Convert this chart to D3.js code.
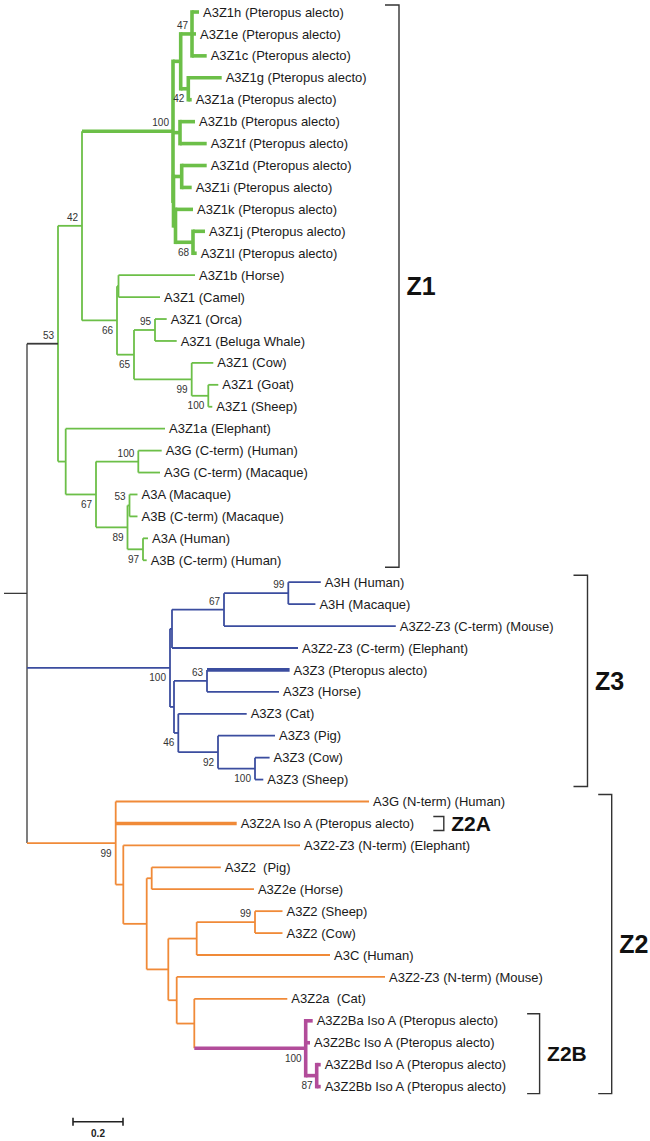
<!DOCTYPE html>
<html><head><meta charset="utf-8">
<script src="https://cdn.jsdelivr.net/npm/d3@7"></script>
<style>body{margin:0;background:#fff}</style>
</head><body>
<svg id="chart" width="650" height="1141"></svg>
<script>
// ---------------- DATA ----------------
const leafLabels = [
  "A3Z1h (Pteropus alecto)","A3Z1e (Pteropus alecto)","A3Z1c (Pteropus alecto)","A3Z1g (Pteropus alecto)",
  "A3Z1a (Pteropus alecto)","A3Z1b (Pteropus alecto)","A3Z1f (Pteropus alecto)","A3Z1d (Pteropus alecto)",
  "A3Z1i (Pteropus alecto)","A3Z1k (Pteropus alecto)","A3Z1j (Pteropus alecto)","A3Z1l (Pteropus alecto)",
  "A3Z1b (Horse)","A3Z1 (Camel)","A3Z1 (Orca)","A3Z1 (Beluga Whale)","A3Z1 (Cow)","A3Z1 (Goat)","A3Z1 (Sheep)",
  "A3Z1a (Elephant)","A3G (C-term) (Human)","A3G (C-term) (Macaque)","A3A (Macaque)","A3B (C-term) (Macaque)",
  "A3A (Human)","A3B (C-term) (Human)",
  "A3H (Human)","A3H (Macaque)","A3Z2-Z3 (C-term) (Mouse)","A3Z2-Z3 (C-term) (Elephant)","A3Z3 (Pteropus alecto)",
  "A3Z3 (Horse)","A3Z3 (Cat)","A3Z3 (Pig)","A3Z3 (Cow)","A3Z3 (Sheep)",
  "A3G (N-term) (Human)","A3Z2A Iso A (Pteropus alecto)","A3Z2-Z3 (N-term) (Elephant)","A3Z2  (Pig)","A3Z2e (Horse)",
  "A3Z2 (Sheep)","A3Z2 (Cow)","A3C (Human)","A3Z2-Z3 (N-term) (Mouse)","A3Z2a  (Cat)",
  "A3Z2Ba Iso A (Pteropus alecto)","A3Z2Bc Iso A (Pteropus alecto)","A3Z2Bd Iso A (Pteropus alecto)","A3Z2Bb Iso A (Pteropus alecto)"
];

// Tree topology, branch lengths (substitutions/site) and bootstrap values (internal node names); leaves are Ln = leafLabels[n]
const treeNewick = `(
 (
  (
   (
    ((L0:0.028,L1:0.016,L2:0.0588)47:0.0452,(L3:0.1336,L4:0.0136)42:0.0304):0.0308,
    (L5:0.06,L6:0.1068):0.028,
    ((L7:0.1,L8:0.04):0.0328,(L9:0.07,(L10:0.048,L11:0.0148)68:0.07):0.008):0.002
   )100:0.364,
   (
    (L12:0.306,L13:0.166):0.006,
    ((L14:0.0468,L15:0.0868)95:0.084,(L16:0.0864,(L17:0.04,L18:0.016)100:0.0664)99:0.2308)65:0.068
   )66:0.14
  )42:0.096,
  (
   L19:0.3972,
   ((L20:0.0936,L21:0.0868)100:0.1692,((L22:0.032,L23:0.032)53:0.008,(L24:0.02,L25:0.0148)97:0.062)89:0.126)67:0.1212
  ):0.0308
 )53:0.124,
 (
  (((L26:0.13,L27:0.1084)99:0.2572,L28:0.6872)67:0.208,L29:0.504):0.008,
  ((L30:0.3304,L31:0.288)63:0.132,(L32:0.2736,(L33:0.228,(L34:0.0584,L35:0.0332)100:0.148)92:0.1588)46:0.0172):0.016
 )100:0.572,
 (
  L36:1.0132,
  L37:0.484,
  (
   L38:0.7068,
   (
    (L39:0.2764,L40:0.409):0.02,
    (
     ((L41:0.11,L42:0.11)99:0.2332,L43:0.5332):0.1136,
     (L44:0.8332,(L45:0.372,(L46:0.028,L47:0.0172,(L48:0.016,L49:0.016)87:0.044)100:0.4456):0.0704):0.0336
    ):0.0864
   ):0.0936
  ):0.0304
 )99:0.3548
);`;

const groupNames = ["Z1", "Z3", "Z2", "Z2B"];
const groupFirstLeaf = [0, 26, 36, 46];
const groupLastLeaf = [25, 35, 49, 49];

const bracketLabels = ["Z1", "Z3", "Z2", "Z2A", "Z2B"];
const bracketFirstLeaf = [0, 26, 36, 37, 46];
const bracketLastLeaf = [25, 35, 49, 37, 49];

const highlightSpecies = "Pteropus alecto";
const scaleBarValue = 0.2;

// ---------------- STYLE / LAYOUT ----------------
const groupColor = { Z1: "#6cbf48", Z3: "#3b4d9f", Z2: "#f08a38", Z2B: "#b24c9a", none: "#3a3a3a" };
const bracketX = { Z1: 399, Z3: 587.5, Z2: 611.7, Z2A: 443.8, Z2B: 539.6 };
const bracketTick = { Z1: 14, Z3: 14, Z2: 13.5, Z2A: 10.5, Z2B: 12.5 };
const bracketFont = { Z1: 25, Z3: 25, Z2: 25, Z2A: 21, Z2B: 21 };
const thin = 1.8, thick = 3.6;

// ---------------- PARSE ----------------
function parseNewick(str) {
  const s = str.replace(/\s+/g, "");
  let i = 0;
  function node() {
    const n = {};
    if (s[i] === "(") {
      i++; n.children = [];
      for (;;) {
        n.children.push(node());
        if (s[i] === ",") { i++; continue; }
        if (s[i] === ")") { i++; break; }
        throw new Error("bad newick at " + i);
      }
    }
    let name = "";
    while (i < s.length && !",():;".includes(s[i])) name += s[i++];
    n.name = name;
    n.length = 0;
    if (s[i] === ":") {
      i++; let num = "";
      while (i < s.length && !",();".includes(s[i])) num += s[i++];
      n.length = +num;
    }
    return n;
  }
  return node();
}

const root = d3.hierarchy(parseNewick(treeNewick));
root.eachBefore(d => { d.dist = d.parent ? d.parent.dist + d.data.length : 0; });

const x = d3.scaleLinear().domain([0, 1]).range([27, 277]);
const y = d3.scaleLinear().domain([0, leafLabels.length - 1]).range([12, 1086.6]);

root.eachAfter(d => {
  if (d.children) {
    d.yPos = (d.children[0].yPos + d.children[d.children.length - 1].yPos) / 2;
    d.minLeaf = d3.min(d.children, c => c.minLeaf);
    d.maxLeaf = d3.max(d.children, c => c.maxLeaf);
    d.allHighlight = d.children.every(c => c.allHighlight);
  } else {
    d.leafIndex = +d.data.name.slice(1);
    d.yPos = y(d.leafIndex);
    d.minLeaf = d.maxLeaf = d.leafIndex;
    d.allHighlight = leafLabels[d.leafIndex].includes(highlightSpecies);
  }
  let best = "none", bestSize = Infinity;
  groupNames.forEach((g, k) => {
    if (d.minLeaf >= groupFirstLeaf[k] && d.maxLeaf <= groupLastLeaf[k]) {
      const size = groupLastLeaf[k] - groupFirstLeaf[k];
      if (size < bestSize) { bestSize = size; best = g; }
    }
  });
  d.group = best;
});

const svg = d3.select("#chart");
const gLinks = svg.append("g").attr("fill", "none").attr("stroke-linecap", "square");

function stemColor(d) {
  if (d.parent === root && d.group === "Z1") return groupColor.none;
  return groupColor[d.group];
}

const nodes = root.descendants();
// draw thin first, thick on top
const ordered = nodes.slice().sort((a, b) => (a.allHighlight ? 1 : 0) - (b.allHighlight ? 1 : 0));

// vertical connectors
ordered.filter(d => d.children).forEach(d => {
  const first = d.children[0], last = d.children[d.children.length - 1];
  gLinks.append("line")
    .attr("x1", x(d.dist)).attr("x2", x(d.dist))
    .attr("y1", first.yPos).attr("y2", last.yPos)
    .attr("stroke", groupColor[d.group])
    .attr("stroke-width", d.allHighlight ? thick : thin)
    .attr("stroke-linecap", d.allHighlight ? "square" : "butt");
});
// horizontal branches
ordered.filter(d => d.parent).forEach(d => {
  gLinks.append("line")
    .attr("x1", x(d.parent.dist)).attr("x2", x(d.dist))
    .attr("y1", d.yPos).attr("y2", d.yPos)
    .attr("stroke", stemColor(d))
    .attr("stroke-width", d.allHighlight ? thick : thin)
    .attr("stroke-linecap", "butt");
});
// root stub
svg.append("line")
  .attr("x1", x(0) - 23).attr("x2", x(0))
  .attr("y1", root.yPos).attr("y2", root.yPos)
  .attr("stroke", groupColor.none).attr("stroke-width", 1.3);
svg.select("g").selectAll("line").filter(function(){return false;});
// root vertical colour (neutral, thinner)
gLinks.selectAll("line").filter(function() {
  return +this.getAttribute("x1") === x(0) && +this.getAttribute("x2") === x(0);
}).attr("stroke-width", 1.3);

// leaf labels
svg.append("g")
  .selectAll("text")
  .data(root.leaves())
  .join("text")
  .attr("x", d => x(d.dist) + 4)
  .attr("y", d => d.yPos + 4.6)
  .attr("font-family", "Liberation Sans, Arial, sans-serif")
  .attr("font-size", 13)
  .attr("fill", "#1a1a1a")
  .attr("xml:space", "preserve")
  .style("white-space", "pre")
  .text(d => leafLabels[d.leafIndex]);

// bootstrap labels
svg.append("g")
  .selectAll("text")
  .data(nodes.filter(d => d.children && d.data.name !== ""))
  .join("text")
  .attr("x", d => x(d.dist) - 4)
  .attr("y", d => {
    const idx = d.parent ? d.parent.children.indexOf(d) : 0;
    return idx === 0 ? d.yPos - 5 : d.yPos + 13.5;
  })
  .attr("text-anchor", "end")
  .attr("font-family", "Liberation Sans, Arial, sans-serif")
  .attr("font-size", 10)
  .attr("fill", "#333")
  .text(d => d.data.name);

// clade brackets
const gBr = svg.append("g");
bracketLabels.forEach((lab, k) => {
  const top = y(bracketFirstLeaf[k]) - 7, bot = y(bracketLastLeaf[k]) + 7;
  const bx = bracketX[lab], t = bracketTick[lab];
  gBr.append("path")
    .attr("d", `M${bx - t},${top}H${bx}V${bot}H${bx - t}`)
    .attr("fill", "none").attr("stroke", "#333").attr("stroke-width", 1.4);
  gBr.append("text")
    .attr("x", bx + 7.5).attr("y", (top + bot) / 2)
    .attr("dominant-baseline", "central")
    .attr("font-family", "Liberation Sans, Arial, sans-serif")
    .attr("font-weight", "bold")
    .attr("font-size", bracketFont[lab])
    .attr("fill", "#111")
    .text(lab);
});

// scale bar
const sbX0 = 73, sbY = 1121.7;
const sbLen = x(scaleBarValue) - x(0);
const gSb = svg.append("g").attr("stroke", "#222").attr("stroke-width", 1.6);
gSb.append("line").attr("x1", sbX0).attr("x2", sbX0 + sbLen).attr("y1", sbY).attr("y2", sbY);
gSb.append("line").attr("x1", sbX0).attr("x2", sbX0).attr("y1", sbY - 4).attr("y2", sbY + 4);
gSb.append("line").attr("x1", sbX0 + sbLen).attr("x2", sbX0 + sbLen).attr("y1", sbY - 4).attr("y2", sbY + 4);
svg.append("text")
  .attr("x", sbX0 + sbLen / 2).attr("y", sbY + 15)
  .attr("text-anchor", "middle")
  .attr("font-family", "Liberation Sans, Arial, sans-serif")
  .attr("font-weight", "bold").attr("font-size", 10).attr("fill", "#222")
  .text(scaleBarValue);
</script>
</body></html>
